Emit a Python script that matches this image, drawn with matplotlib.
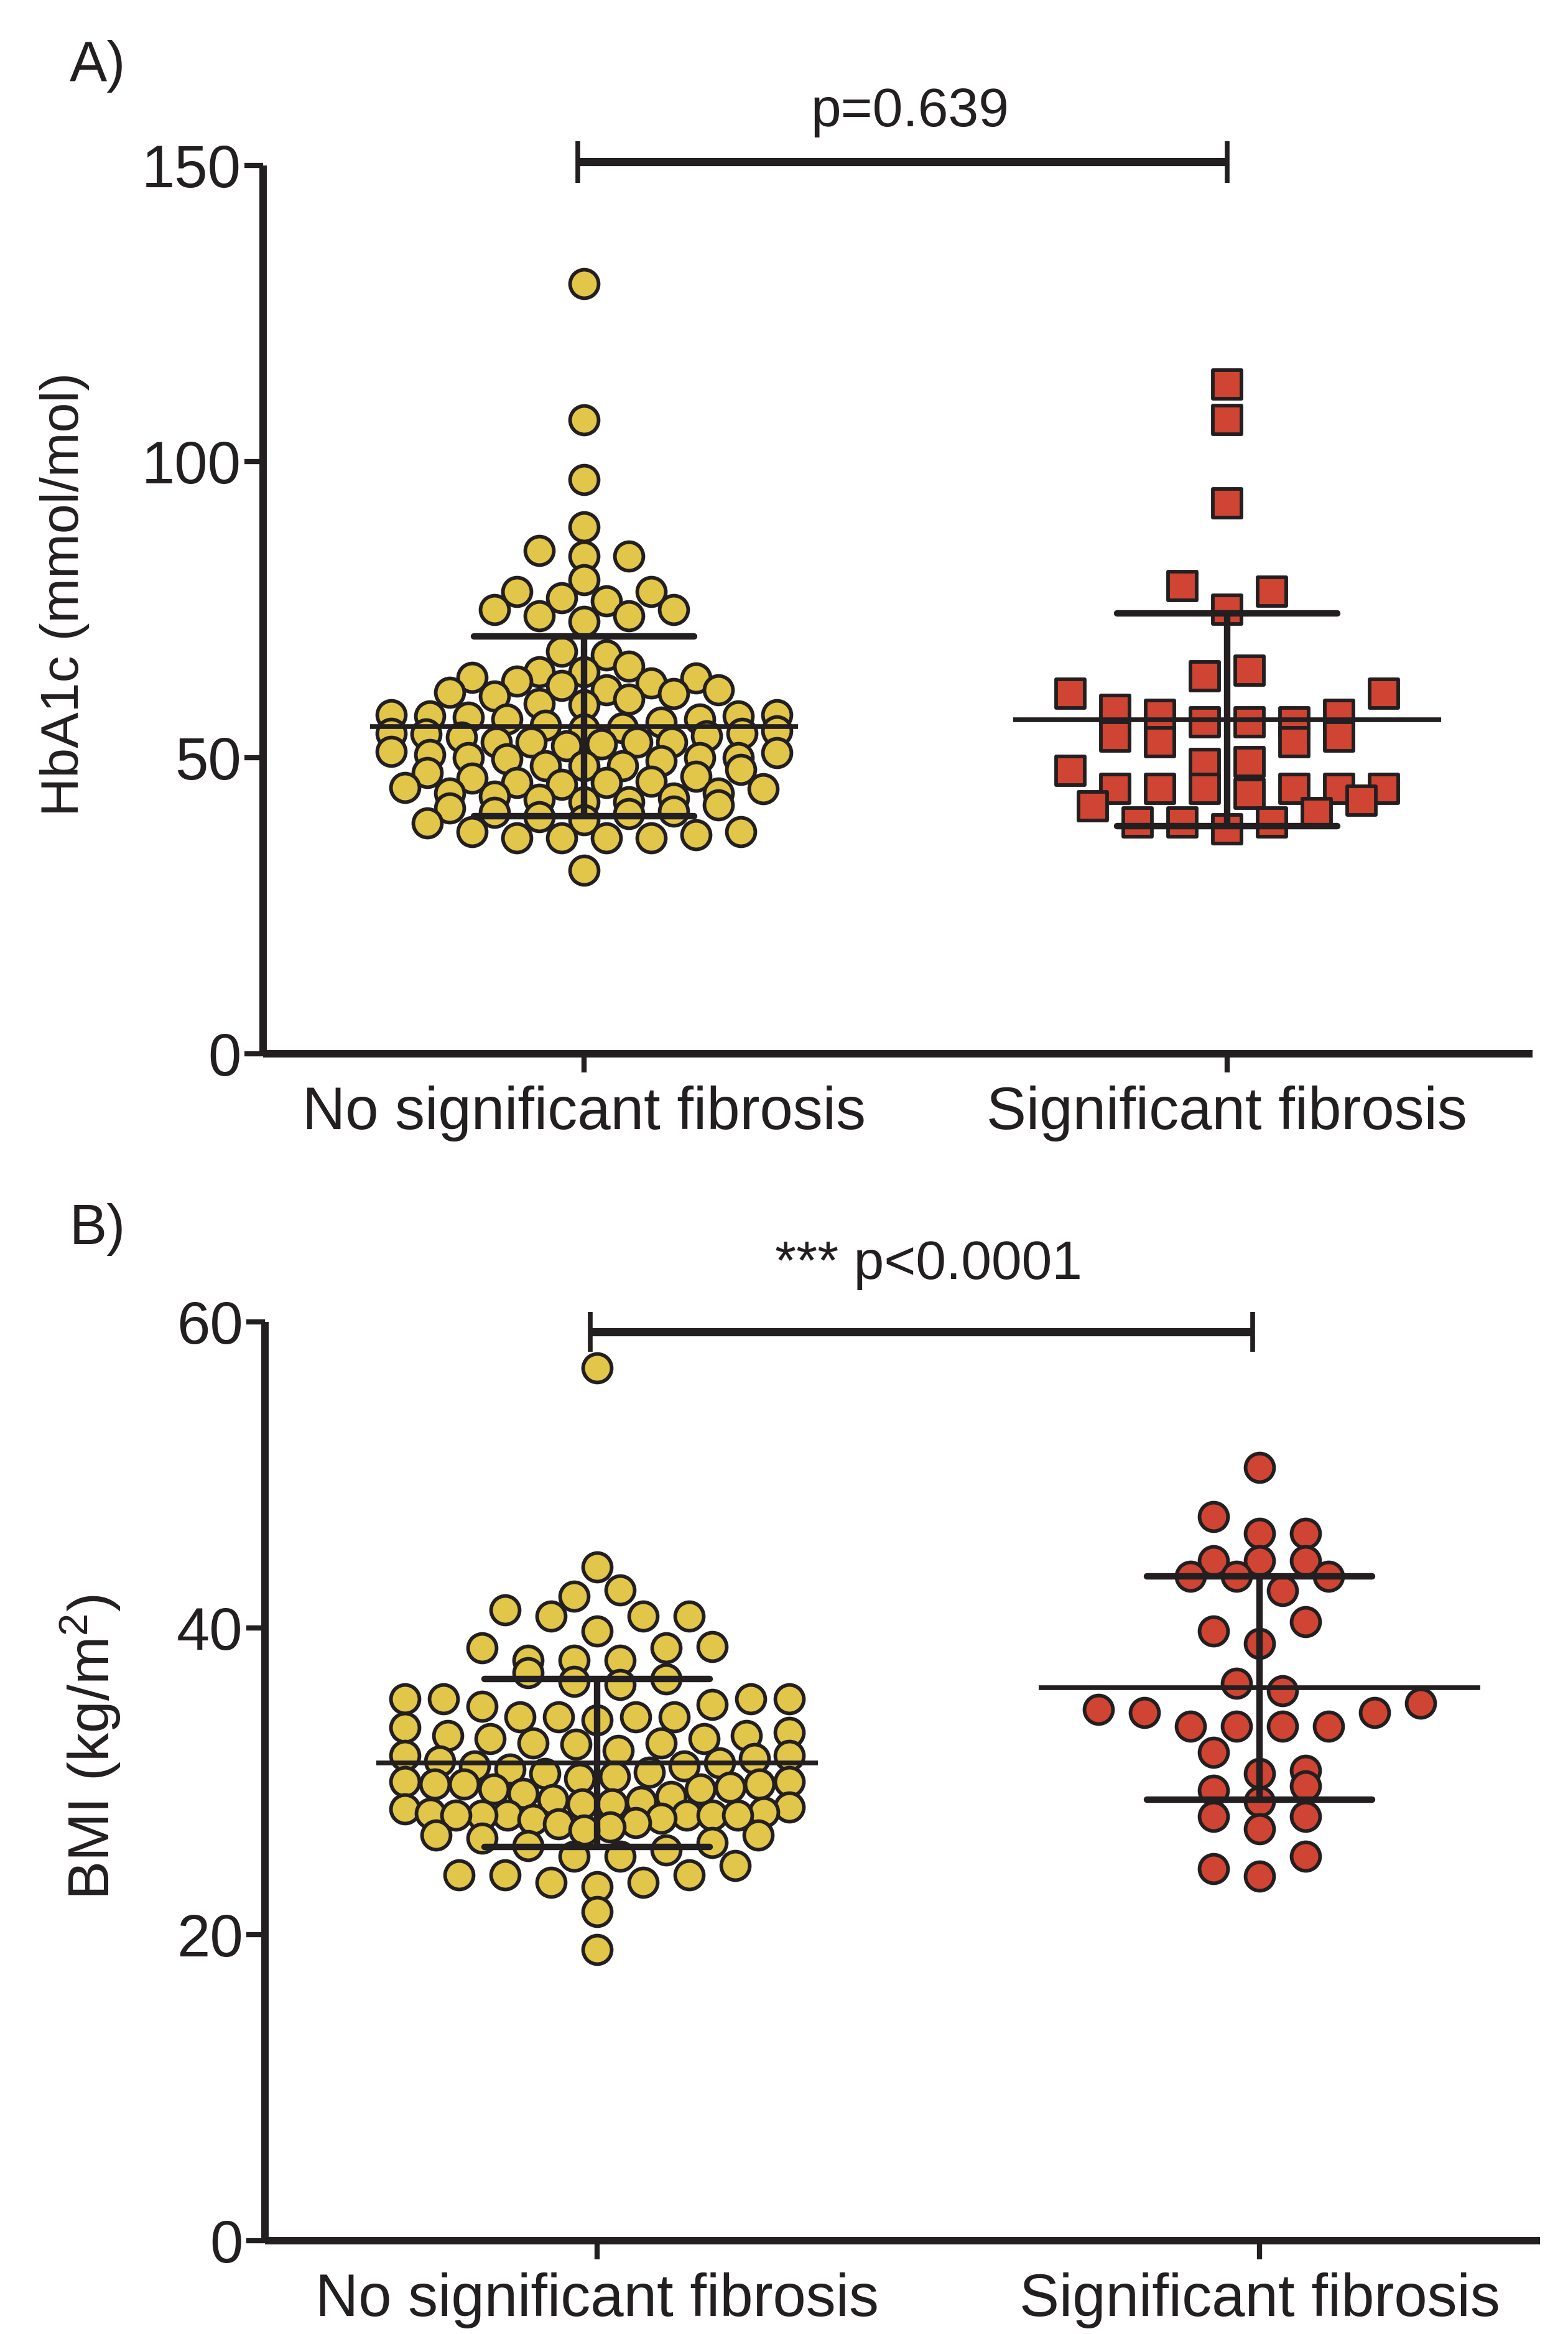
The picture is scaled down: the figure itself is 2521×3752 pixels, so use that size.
import numpy as np
import matplotlib
matplotlib.use("Agg")
import matplotlib.pyplot as plt
from matplotlib.markers import MarkerStyle

plt.rcParams['font.family'] = ['Liberation Sans', 'DejaVu Sans']
plt.rcParams['mathtext.fontset'] = 'custom'
plt.rcParams['mathtext.rm'] = 'Liberation Sans'
plt.rcParams['mathtext.default'] = 'regular'

# ---------------- data ----------------
categories = ['No significant fibrosis', 'Significant fibrosis']

hba1c_no_fibrosis = [
    130, 107, 97, 89, 85, 84, 84, 80, 78, 78, 77, 76.5, 75, 75, 74, 74, 73,
    68, 67.3, 65.4, 64.5, 64.5, 63.6, 63.4, 62.9, 62.6, 62.2,
    61.5, 61.4, 61.0, 60.8, 60.4, 59.9, 59.1, 58.9,
    57.2, 57.2, 57.0, 57.0, 56.8, 56.5, 56.5, 56.0,
    55.5, 55.0, 54.8, 54.5, 54.1, 54.1, 54.0, 53.7, 53.5,
    52.6, 52.6, 52.6, 52.6, 52.3, 52.0,
    51.0, 50.8, 50.5, 50.0, 50.0, 50.0, 49.8, 49.5,
    48.6, 48.6, 48.6, 48.0, 47.5, 46.9, 46.5, 46.0,
    45.8, 45.8, 45.5, 45.0, 44.8, 44.0, 44.0, 43.5, 43.2, 43.0, 42.5, 42.5, 42.0,
    41.5, 41.0, 40.8, 40.5, 40.0, 39.5, 39.0,
    37.5, 37.5, 37.0, 36.5, 36.5, 36.5, 36.5, 31.0]

hba1c_fibrosis = [
    113, 107, 93, 79, 78, 75, 64.7, 63.8, 60.8, 60.8, 58.1, 57.2, 57.2,
    56, 56, 56, 53.6, 53.6, 52.6, 52.6, 49.3, 49.0, 47.8,
    44.8, 44.8, 44.8, 44.8, 44.8, 44.8, 43.9, 42.7, 41.8, 40.6,
    39.1, 39.1, 39.1, 37.9]

bmi_no_fibrosis = [
    57,
    44, 42.5, 42.1, 41.2, 40.8, 40.8, 40.8, 39.8,
    38.8, 38.7, 38.7, 37.9, 37.9, 37.9, 37.1, 36.7, 36.5, 36.3,
    35.4, 35.4, 35.4, 35.4, 35.0, 34.9,
    34.2, 34.2, 34.2, 34.2, 34.0, 33.5, 33.2,
    33.0, 33.0, 32.8, 32.8, 32.5, 32.5, 32.4, 32.0,
    31.7, 31.7, 31.5, 31.3, 31.2, 31.0, 31.0, 30.8, 30.6,
    30.5, 30.3, 30.2, 30.0, 30.0, 29.8, 29.8, 29.8, 29.6, 29.5, 29.5, 29.2,
    29.0, 28.8, 28.7, 28.5, 28.5, 28.3, 28.2, 28.0,
    27.9, 27.8, 27.8, 27.8, 27.8, 27.8, 27.8, 27.6, 27.5, 27.3, 27.2, 27.0,
    26.8, 26.5, 26.5, 26.3, 26.0, 25.8,
    25.5, 25.1, 25.1,
    24.5, 23.9, 23.9, 23.9, 23.4, 23.4, 23.1,
    21.5, 19.0]

bmi_fibrosis = [
    50.5, 47.3, 46.2, 46.2, 44.4, 44.4, 44.4, 43.4, 43.4, 43.4, 42.45,
    40.4, 39.8, 39.0, 36.4, 35.9, 35.1, 34.7, 34.5, 34.5,
    33.6, 33.6, 33.6, 33.6, 31.9, 30.7, 30.5, 29.7, 29.4, 28.7,
    27.7, 27.7, 26.9, 25.1, 24.3, 23.8]

hba1c_mean = [55.3, 56.4]
hba1c_sd = [15.2, 18.0]
bmi_mean = [31.2, 36.1]
bmi_sd = [5.5, 7.3]

hba1c_ticks = [0, 50, 100, 150]
bmi_ticks = [0, 20, 40, 60]
p_texts = ['p=0.639', '*** p<0.0001']

# ---------------- style ----------------
INK = '#231F20'
YELLOW = '#E2C64A'
RED = '#CF4433'
W, H = 2521, 3752
DPI = 100


def swarm_offsets(vals, row_h, step, max_half):
    """Prism-like row layout: group close values in rows and spread them
    horizontally around the column centre (lowest values in the middle)."""
    v = np.asarray(vals, float)
    order = np.argsort(v, kind='stable')
    offs = np.zeros(len(v))
    i, row = 0, 0
    while i < len(order):
        start = v[order[i]]
        j = i
        while j < len(order) and v[order[j]] < start + row_h:
            j += 1
        idx = order[i:j]
        n = len(idx)
        st = step if n == 1 else min(step, 2 * max_half / (n - 1))
        pos = (np.arange(n) - (n - 1) / 2) * st
        sgn = 1 if row % 2 == 0 else -1
        pos_order = sorted(range(n), key=lambda k: (round(abs(pos[k]), 6), sgn * pos[k]))
        for vi, pk in zip(idx, pos_order):
            offs[vi] = pos[pk]
        i = j
        row += 1
    return offs


fig = plt.figure(figsize=(W / DPI, H / DPI), dpi=DPI)


def px_axes(left, right, top, bottom):
    return fig.add_axes([left / W, 1 - bottom / H, (right - left) / W, (bottom - top) / H])


def style_axes(ax, yticks):
    for s in ['top', 'right']:
        ax.spines[s].set_visible(False)
    for s in ['left', 'bottom']:
        ax.spines[s].set_linewidth(8.6)
        ax.spines[s].set_color(INK)
        ax.spines[s].set_capstyle('butt')
    ax.set_yticks(yticks)
    ax.set_xticks([1, 2])
    ax.set_xticklabels(categories)
    ax.tick_params(axis='both', length=21.5, width=6, direction='out',
                   color=INK, labelcolor=INK, labelsize=69)
    ax.tick_params(axis='x', pad=15)
    ax.tick_params(axis='y', pad=4)


def draw_group(ax, x, vals, marker, color, row_h, step, max_half):
    offs = swarm_offsets(vals, row_h, step, max_half)
    ms = MarkerStyle(marker, joinstyle='round')
    ax.plot(x + offs, vals, linestyle='none', marker=ms, markersize=33,
            markerfacecolor=color, markeredgecolor=INK, markeredgewidth=4.2,
            zorder=3, clip_on=False)


def draw_stats(ax, x, mean, sd, half_mean, half_sd):
    ax.hlines(mean, x - half_mean, x + half_mean, colors=INK, linewidth=5.5, zorder=5)
    ax.hlines([mean - sd, mean + sd], x - half_sd, x + half_sd, colors=INK,
              linewidth=7.5, zorder=5, capstyle='round')
    ax.vlines(x, mean - sd, mean + sd, colors=INK, linewidth=7.5, zorder=5)


def draw_bracket(ax, x0, x1, y, tick_h, text, ty, tx):
    ax.plot([x0, x1], [y, y], color=INK, linewidth=9.5, clip_on=False, solid_capstyle='butt')
    ax.vlines([x0, x1], y - tick_h, y + tick_h, colors=INK, linewidth=5.5, clip_on=False)
    ax.text(tx, ty, text, ha='center', va='baseline', fontsize=63, color=INK, clip_on=False)


# ---------------- panel A ----------------
axA = px_axes(423, 2464, 266, 1694)
axA.set_xlim(0.501, 2.475)
axA.set_ylim(0, 150)
style_axes(axA, hba1c_ticks)
draw_group(axA, 1, hba1c_no_fibrosis, 'o', YELLOW, 2.6, 0.0696, 0.30)
draw_group(axA, 2, hba1c_fibrosis, 's', RED, 5.0, 0.0696, 0.30)
for k in range(2):
    draw_stats(axA, k + 1, hba1c_mean[k], hba1c_sd[k], 0.333, 0.171)
draw_bracket(axA, 0.99, 2.0, 150.6, 3.5, p_texts[0], 156.6, 1.507)

# ---------------- panel B ----------------
axB = px_axes(426, 2476, 2125, 3602)
axB.set_xlim(0.4986, 2.4235)
axB.set_ylim(0, 60)
style_axes(axB, bmi_ticks)
draw_group(axB, 1, bmi_no_fibrosis, 'o', YELLOW, 1.6, 0.0695, 0.29)
draw_group(axB, 2, bmi_fibrosis, 'o', RED, 1.6, 0.0695, 0.30)
for k in range(2):
    draw_stats(axB, k + 1, bmi_mean[k], bmi_sd[k], 0.333, 0.17)
draw_bracket(axB, 0.99, 1.99, 59.35, 1.3, p_texts[1], 62.8, 1.5)

# ---------------- labels ----------------
fig.text(112 / W, 1 - 130 / H, 'A)', fontsize=65, color=INK, ha='left', va='baseline')
fig.text(112 / W, 1 - 2000 / H, 'B)', fontsize=65, color=INK, ha='left', va='baseline')
fig.text(104 / W, 1 - 955 / H, 'HbA1c (mmol/mol)', rotation=90, ha='center', va='center',
         fontsize=62, color=INK)
fig.text(146 / W, 1 - 2809 / H, 'BMI (kg/m$^2$)', rotation=90, ha='center', va='center',
         fontsize=67, color=INK)

fig.savefig('out.png', dpi=DPI, facecolor='white')
